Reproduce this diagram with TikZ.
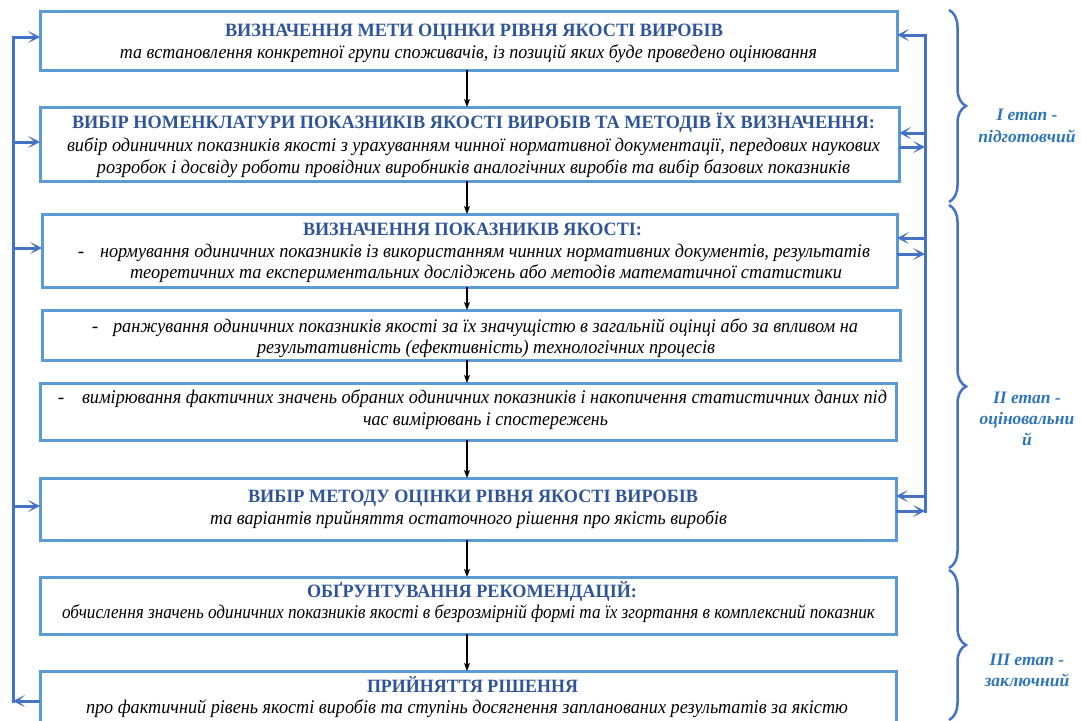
\documentclass[tikz,border=0pt]{standalone}
\usepackage{fontspec}
\usepackage{graphicx}
\setmainfont{Liberation Serif}
\usetikzlibrary{arrows.meta,decorations.pathreplacing}
\definecolor{boxblue}{HTML}{5B9BD5}
\definecolor{fbblue}{HTML}{4472C4}
\definecolor{hdblue}{HTML}{2F5597}
\definecolor{lblblue}{HTML}{2E75B6}
\newcommand\hdfs{\fontsize{18.8}{22}\selectfont}
\newcommand\mainfs{\fontsize{19.3}{22}\selectfont}
\newcommand\lblfs{\fontsize{17.5}{22}\selectfont}
\newlength\natw
\newcommand\fitw[2]{\settowidth\natw{#2}\pgfmathsetmacro\fitratio{#1/\natw}\scalebox{\fitratio}[1]{#2}}
\tikzset{
  box/.style={draw=boxblue,line width=3pt,rectangle,inner sep=0pt,outer sep=0pt},
  hd/.style={font=\hdfs\bfseries,text=hdblue,anchor=base,inner sep=0pt},
  bd/.style={font=\mainfs\itshape,text=black,anchor=base,inner sep=0pt},
  dsh/.style={font=\mainfs,text=black,anchor=base,inner sep=0pt},
  flow/.style={draw=black,line width=1.2pt,-{Stealth[length=8pt,width=6pt,inset=2pt]}},
  fbline/.style={draw=fbblue,line width=3pt},
  fb/.style={draw=fbblue,line width=3pt,-{Stealth[length=12pt,width=12pt,inset=6.5pt]}},
  lbl/.style={font=\lblfs\bfseries\itshape,text=lblblue,anchor=base,inner sep=0pt},
  brc/.style={draw=fbblue,line width=2.5pt,decorate,decoration={brace,amplitude=17pt}}
}
\begin{document}
\begin{tikzpicture}[x=1pt,y=-1pt]
\useasboundingbox (0,0) rectangle (1081,720);
\clip (0,0) rectangle (1081,720);
% boxes
\node[box,minimum width=857pt,minimum height=59pt,anchor=north west] (b1) at (40,11) {};
\node[box,minimum width=859pt,minimum height=74pt,anchor=north west] (b2) at (40,107) {};
\node[box,minimum width=855pt,minimum height=73pt,anchor=north west] (b3) at (42,214) {};
\node[box,minimum width=858pt,minimum height=50pt,anchor=north west] (b4) at (42,310) {};
\node[box,minimum width=856pt,minimum height=57pt,anchor=north west] (b5) at (40,383) {};
\node[box,minimum width=856pt,minimum height=62pt,anchor=north west] (b6) at (40,478) {};
\node[box,minimum width=856pt,minimum height=57pt,anchor=north west] (b7) at (40,577) {};
\node[box,minimum width=856pt,minimum height=60pt,anchor=north west] (b8) at (40,671) {};
% texts
\node[hd] (t1h) at (474,36) {\fitw{498pt}{ВИЗНАЧЕННЯ МЕТИ ОЦІНКИ РІВНЯ ЯКОСТІ ВИРОБІВ}};
\node[bd] (t1b) at (468.5,58) {\fitw{697pt}{та встановлення конкретної групи споживачів, із позицій яких буде проведено оцінювання}};
\node[hd] (t2h) at (473.5,128) {\fitw{803pt}{ВИБІР НОМЕНКЛАТУРИ ПОКАЗНИКІВ ЯКОСТІ ВИРОБІВ ТА МЕТОДІВ ЇХ ВИЗНАЧЕННЯ:}};
\node[bd] (t2b) at (473.5,151) {\fitw{813pt}{вибір одиничних показників якості з урахуванням чинної нормативної документації, передових наукових}};
\node[bd] (t2c) at (473.5,173) {\fitw{753pt}{розробок і досвіду роботи провідних виробників аналогічних виробів та вибір базових показників}};
\node[hd] (t3h) at (472.5,235) {\fitw{339pt}{ВИЗНАЧЕННЯ ПОКАЗНИКІВ ЯКОСТІ:}};
\node[dsh] (t3d) at (81,257) {-};
\node[bd] (t3b) at (485,257) {\fitw{770pt}{нормування одиничних показників із використанням чинних нормативних документів, результатів}};
\node[bd] (t3c) at (486,278) {\fitw{712pt}{теоретичних та експериментальних досліджень або методів математичної статистики}};
\node[dsh] (t4d) at (95,332) {-};
\node[bd] (t4b) at (485.5,332) {\fitw{745pt}{ранжування одиничних показників якості за їх значущістю в загальній оцінці або за впливом на}};
\node[bd] (t4c) at (486,353) {\fitw{458pt}{результативність (ефективність) технологічних процесів}};
\node[dsh] (t5d) at (61,403) {-};
\node[bd] (t5b) at (484.5,403) {\fitw{805pt}{вимірювання фактичних значень обраних одиничних показників і накопичення статистичних даних під}};
\node[bd] (t5c) at (485.5,425) {\fitw{245pt}{час вимірювань і спостережень}};
\node[hd] (t6h) at (473,502) {\fitw{450pt}{ВИБІР МЕТОДУ ОЦІНКИ РІВНЯ ЯКОСТІ ВИРОБІВ}};
\node[bd] (t6b) at (468.5,524) {\fitw{517pt}{та варіантів прийняття остаточного рішення про якість виробів}};
\node[hd] (t7h) at (472,597) {\fitw{330pt}{ОБҐРУНТУВАННЯ РЕКОМЕНДАЦІЙ:}};
\node[bd] (t7b) at (468.5,618) {\fitw{813pt}{обчислення значень одиничних показників якості в безрозмірній формі та їх згортання в комплексний показник}};
\node[hd] (t8h) at (472.5,692) {\fitw{211pt}{ПРИЙНЯТТЯ РІШЕННЯ}};
\node[bd] (t8b) at (467,713) {\fitw{762pt}{про фактичний рівень якості виробів та ступінь досягнення запланованих результатів за якістю}};
% main flow
\coordinate (ax) at (467,0);
\draw[flow] (b1.south -| ax) -- (b2.north -| ax);
\draw[flow] (b2.south -| ax) -- (b3.north -| ax);
\draw[flow] (b3.south -| ax) -- (b4.north -| ax);
\draw[flow] (b4.south -| ax) -- (b5.north -| ax);
\draw[flow] (b5.south -| ax) -- (b6.north -| ax);
\draw[flow] (b6.south -| ax) -- (b7.north -| ax);
\draw[flow] (b7.south -| ax) -- (b8.north -| ax);
% left feedback
\coordinate (l1) at (13,37);
\coordinate (l2) at (13,142);
\coordinate (l3) at (13,248);
\coordinate (l6) at (13,506);
\coordinate (l8) at (13,701);
\draw[fbline,line cap=rect] (l1) -- (l8);
\draw[fb] (b8.west |- l8) -- (l8);
\draw[fb] (l1) -- (b1.west |- l1);
\draw[fb] (l2) -- (b2.west |- l2);
\draw[fb] (l3) -- (b3.west |- l3);
\draw[fb] (l6) -- (b6.west |- l6);
% right feedback
\coordinate (r1) at (925,35);
\coordinate (r2i) at (925,133);
\coordinate (r2o) at (925,147);
\coordinate (r3i) at (925,238);
\coordinate (r3o) at (925,254);
\coordinate (r6i) at (925,496);
\coordinate (r6o) at (925,511);
\draw[fbline,line cap=rect] (r1) -- (r6o);
\draw[fb] (r1) -- (b1.east |- r1);
\draw[fb] (r2i) -- (b2.east |- r2i);
\draw[fb] (b2.east |- r2o) -- (r2o);
\draw[fb] (r3i) -- (b3.east |- r3i);
\draw[fb] (b3.east |- r3o) -- (r3o);
\draw[fb] (r6i) -- (b6.east |- r6i);
\draw[fb] (b6.east |- r6o) -- (r6o);
% braces
\coordinate (br1a) at (949,10);
\coordinate (br1b) at (949,202);
\coordinate (br2a) at (949,205);
\coordinate (br2b) at (949,568);
\coordinate (br3a) at (949,570);
\coordinate (br3b) at (949,720);
\draw[brc] (br1a) -- (br1b);
\draw[brc] (br2a) -- (br2b);
\draw[brc] (br3a) -- (br3b);
% stage labels
\node[lbl] (s1a) at (1027,120) {I етап -};
\node[lbl] (s1b) at (1027,142) {підготовчий};
\node[lbl] (s2a) at (1027,403) {II етап -};
\node[lbl] (s2b) at (1027,424) {оціновальни};
\node[lbl] (s2c) at (1027,445) {й};
\node[lbl] (s3a) at (1027,665) {III етап -};
\node[lbl] (s3b) at (1027,686) {заключний};
\end{tikzpicture}
\end{document}
